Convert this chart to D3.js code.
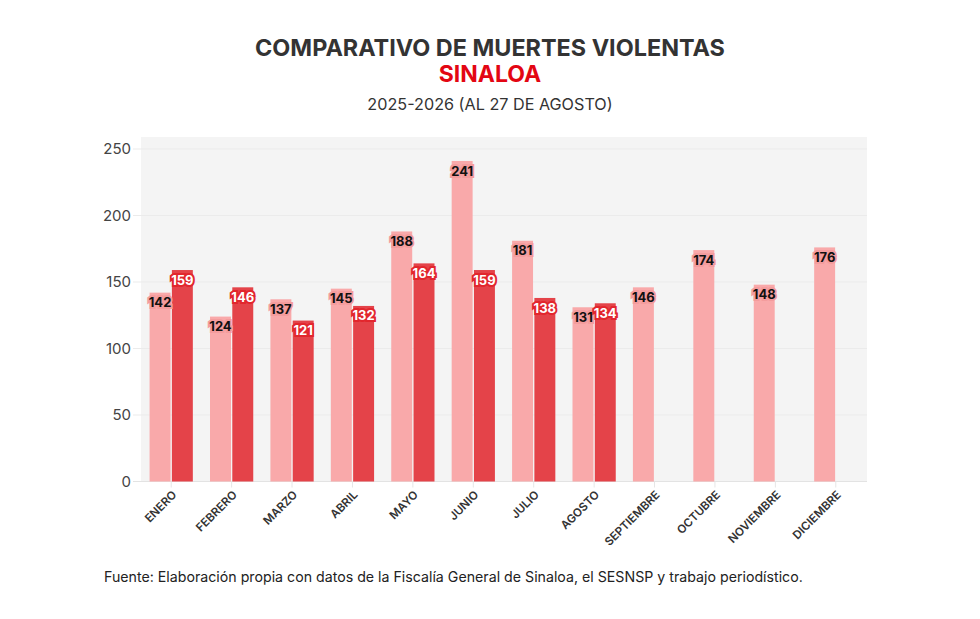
<!DOCTYPE html>
<html lang="es">
<head>
  <meta charset="UTF-8">
  <title>Comparativo de muertes violentas - Sinaloa</title>
  <script src="https://d3js.org/d3.v7.min.js"></script>
  <style>
    body { margin: 0; background: #fff; }
    svg { display: block; font-family: "Inter", "Roboto", sans-serif; }
    .title { font-weight: 700; fill: #333; }
    .ytick { font-size: 15px; fill: #444; }
    .xtick { font-size: 11.5px; font-weight: 600; fill: #333; }
    .val { font-size: 13px; font-weight: 700; paint-order: stroke; stroke-linejoin: miter; }
  </style>
</head>
<body>
  <div id="chart"></div>
  <script>
    const months = ["ENERO", "FEBRERO", "MARZO", "ABRIL", "MAYO", "JUNIO", "JULIO",
      "AGOSTO", "SEPTIEMBRE", "OCTUBRE", "NOVIEMBRE", "DICIEMBRE"];
    const values2025 = [142, 124, 137, 145, 188, 241, 181, 131, 146, 174, 148, 176];
    const values2026 = [159, 146, 121, 132, 164, 159, 138, 134];
    const yTicks = [0, 50, 100, 150, 200, 250];

    const width = 980, height = 619;
    const plot = { left: 141, right: 866, top: 137, bottom: 481.5 };

    const svg = d3.select("#chart").append("svg")
      .attr("width", width)
      .attr("height", height);

    // titles
    svg.append("text").attr("class", "title")
      .attr("x", 490).attr("y", 56).attr("text-anchor", "middle")
      .style("font-size", "23.4px")
      .text("COMPARATIVO DE MUERTES VIOLENTAS");
    svg.append("text").attr("class", "title")
      .attr("x", 490).attr("y", 82).attr("text-anchor", "middle")
      .style("font-size", "23px").style("fill", "#e30613")
      .text("SINALOA");
    svg.append("text")
      .attr("x", 490).attr("y", 110).attr("text-anchor", "middle")
      .style("font-size", "16.2px").style("fill", "#333")
      .text("2025-2026 (AL 27 DE AGOSTO)");

    const y = d3.scaleLinear().domain([0, 250]).range([plot.bottom, 149]);

    const x0 = d3.scaleBand()
      .domain(months)
      .range([plot.left, plot.right])
      .paddingInner(0.24)
      .paddingOuter(0.12);

    const x1 = d3.scaleBand()
      .domain(["2025", "2026"])
      .range([0, x0.bandwidth()])
      .padding(0.06);

    // background
    svg.append("rect")
      .attr("x", plot.left).attr("y", plot.top)
      .attr("width", plot.right - plot.left + 1)
      .attr("height", plot.bottom - plot.top)
      .attr("fill", "#f4f4f4");

    // grid + y ticks
    const grid = svg.append("g");
    grid.selectAll("line")
      .data(yTicks)
      .join("line")
      .attr("x1", plot.left - 8).attr("x2", plot.right + 1)
      .attr("y1", d => y(d)).attr("y2", d => y(d))
      .attr("stroke", d => d === 0 ? "#e3e3e3" : "#ebebeb")
      .attr("stroke-width", 1);
    grid.selectAll("text")
      .data(yTicks)
      .join("text")
      .attr("class", "ytick")
      .attr("x", 131).attr("y", d => y(d))
      .attr("dy", "0.35em")
      .attr("text-anchor", "end")
      .text(d => d);

    // small ticks under the axis
    svg.append("g").selectAll("line")
      .data(months)
      .join("line")
      .attr("x1", d => x0(d) + x0.bandwidth() / 2)
      .attr("x2", d => x0(d) + x0.bandwidth() / 2)
      .attr("y1", plot.bottom).attr("y2", plot.bottom + 6)
      .attr("stroke", "#e6e6e6");

    const bars = [];
    months.forEach((m, i) => {
      bars.push({ month: m, year: "2025", value: values2025[i] });
      if (i < values2026.length) bars.push({ month: m, year: "2026", value: values2026[i] });
    });

    const fill = { "2025": "#f9a9aa", "2026": "#e44349" };
    const halo = { "2025": "#f49c9d", "2026": "#e2262d" };
    const ink = { "2025": "#111", "2026": "#fff" };

    svg.append("g").selectAll("rect")
      .data(bars)
      .join("rect")
      .attr("x", d => x0(d.month) + x1(d.year))
      .attr("y", d => y(d.value))
      .attr("width", x1.bandwidth())
      .attr("height", d => y(0) - y(d.value))
      .attr("fill", d => fill[d.year]);

    svg.append("g").selectAll("text")
      .data(bars)
      .join("text")
      .attr("class", "val")
      .attr("x", d => x0(d.month) + x1(d.year) + x1.bandwidth() / 2)
      .attr("y", d => y(d.value) + 10)
      .attr("dy", "0.35em")
      .attr("text-anchor", "middle")
      .attr("fill", d => ink[d.year])
      .attr("stroke", d => halo[d.year])
      .attr("stroke-width", 4)
      .text(d => d.value);

    // x labels
    svg.append("g").selectAll("text")
      .data(months)
      .join("text")
      .attr("class", "xtick")
      .attr("text-anchor", "end")
      .attr("transform", d => `translate(${x0(d) + x0.bandwidth() / 2 + 6},${plot.bottom + 14}) rotate(-45)`)
      .text(d => d);

    // source
    svg.append("text")
      .attr("x", 104).attr("y", 582)
      .style("font-size", "14.2px").style("fill", "#222")
      .text("Fuente: Elaboración propia con datos de la Fiscalía General de Sinaloa, el SESNSP y trabajo periodístico.");
  </script>
</body>
</html>
